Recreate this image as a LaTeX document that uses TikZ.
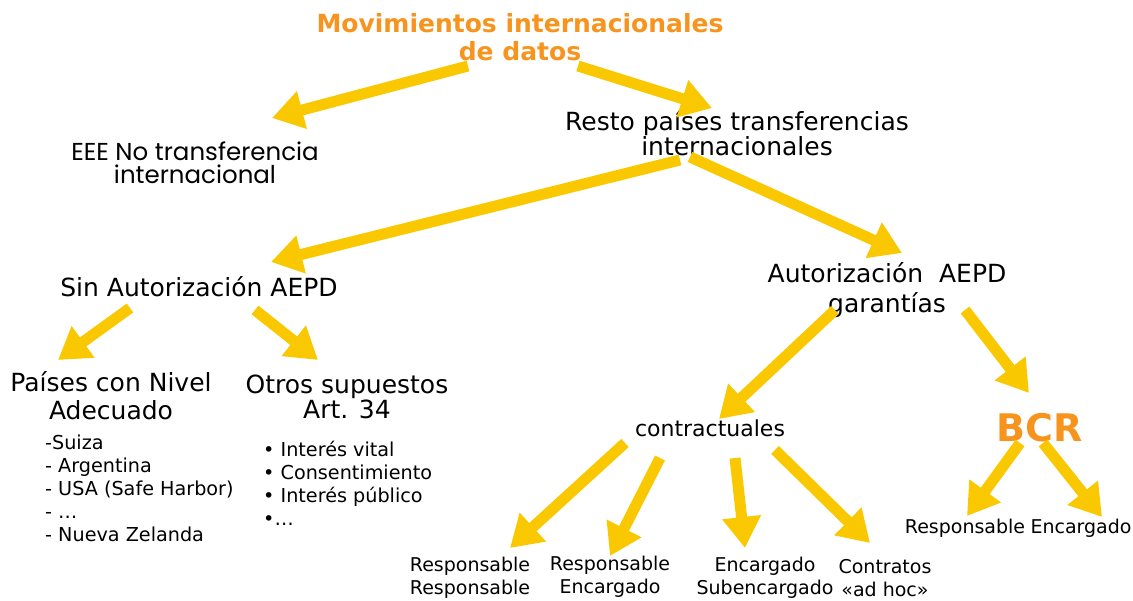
\documentclass[tikz,border=0pt]{standalone}
\usepackage{fontspec}
\setmainfont{DejaVu Sans}
\newfontfamily\gothfont{Poppins}
\usepackage{tikz}
\usetikzlibrary{arrows.meta}
\definecolor{oro}{RGB}{250,200,0}
\definecolor{naranja}{RGB}{247,148,30}

\begin{document}
\begin{tikzpicture}[x=1pt, y=-1pt,
		texto_style/.style={align=center,inner sep=0pt,font=\fontsize{25}{24}\selectfont},
		hoja_style/.style={align=center,inner sep=0pt,font=\fontsize{19}{23}\selectfont},
		lista_style/.style={align=left,inner sep=0pt,anchor=west,font=\fontsize{19.2}{23}\selectfont},
		flecha_style/.style={draw=oro,line width=11pt,-{Triangle[length=31pt,width=37pt]}}]
		
		\useasboundingbox (0,0) rectangle (1133,601);
		
		\node[texto_style,text=naranja,font=\fontsize{25}{28}\selectfont\bfseries] (titulo) at (520,37) {Movimientos internacionales\\de datos};
		\node[texto_style,font=\gothfont\fontsize{24.5}{23}\selectfont] (eee) at (195,163) {EEE No transferencia\\internacional};
		\node[texto_style,font=\fontsize{25}{23}\selectfont] (resto) at (737,133) {Resto países transferencias\\internacionales};
		\node[texto_style] (sin) at (199,287) {Sin Autorización AEPD};
		\node[texto_style,font=\fontsize{25}{30}\selectfont] (aut) at (887,290) {Autorización~~AEPD\\garantías};
		\node[texto_style,font=\fontsize{25}{28}\selectfont] (paises) at (111,396) {Países con Nivel\\Adecuado};
		\node[texto_style,font=\fontsize{25}{25}\selectfont] (otros) at (347,397) {Otros supuestos\\Art. 34};
		\node[lista_style] (lista1) at (45,488) {-Suiza\\- Argentina\\- USA (Safe Harbor)\\- …\\- Nueva Zelanda};
		\node[lista_style] (lista2) at (263,483) {• Interés vital\\• Consentimiento\\• Interés público\\•…};
		\node[texto_style,font=\fontsize{22}{24}\selectfont] (contr) at (710,428) {contractuales};
		\node[texto_style,text=naranja,font=\fontsize{38}{40}\selectfont\bfseries] (bcr) at (1040,428) {BCR};
		\node[hoja_style] (rr) at (470,578) {Responsable\\Responsable};
		\node[hoja_style] (re) at (610,577) {Responsable\\Encargado};
		\node[hoja_style] (es) at (765,578) {Encargado\\Subencargado};
		\node[hoja_style] (ah) at (885,578) {Contratos\\«ad hoc»};
		\node[hoja_style] (bresp) at (965,528) {Responsable};
		\node[hoja_style] (bencar) at (1081,528) {Encargado};
		
		
		\draw[flecha_style] ([shift={(-52,29)}]titulo.center) -- ([shift={(77,-45)}]eee.center);
		\draw[flecha_style] ([shift={(58,29)}]titulo.center) -- ([shift={(-25,-25)}]resto.center);
		\draw[flecha_style] ([shift={(-57,27)}]resto.center) -- ([shift={(72,-25)}]sin.center);
		\draw[flecha_style] ([shift={(-47,24)}]resto.center) -- ([shift={(15,-37)}]aut.center);
		\draw[flecha_style] ([shift={(-69,21)}]sin.center) -- ([shift={(-53,-36)}]paises.center);
		\draw[flecha_style] ([shift={(56,23)}]sin.center) -- ([shift={(-29,-37)}]otros.center);
		\draw[flecha_style] ([shift={(-52,20)}]aut.center) -- ([shift={(9,-9)}]contr.center);
		\draw[flecha_style] ([shift={(78,20)}]aut.center) -- ([shift={(-11,-35)}]bcr.center);
		\draw[flecha_style] ([shift={(-85,15)}]contr.center) -- ([shift={(40,-30)}]rr.center);
		\draw[flecha_style] ([shift={(-50,30)}]contr.center) -- ([shift={(0,-21)}]re.center);
		\draw[flecha_style] ([shift={(25,30)}]contr.center) -- ([shift={(-20,-30)}]es.center);
		\draw[flecha_style] ([shift={(65,22)}]contr.center) -- ([shift={(-15,-35)}]ah.center);
		\draw[flecha_style] ([shift={(-20,15)}]bcr.center) -- ([shift={(2,-12)}]bresp.center);
		\draw[flecha_style] ([shift={(3,15)}]bcr.center) -- ([shift={(21,-11)}]bencar.center);
		
\end{tikzpicture}
\end{document}
